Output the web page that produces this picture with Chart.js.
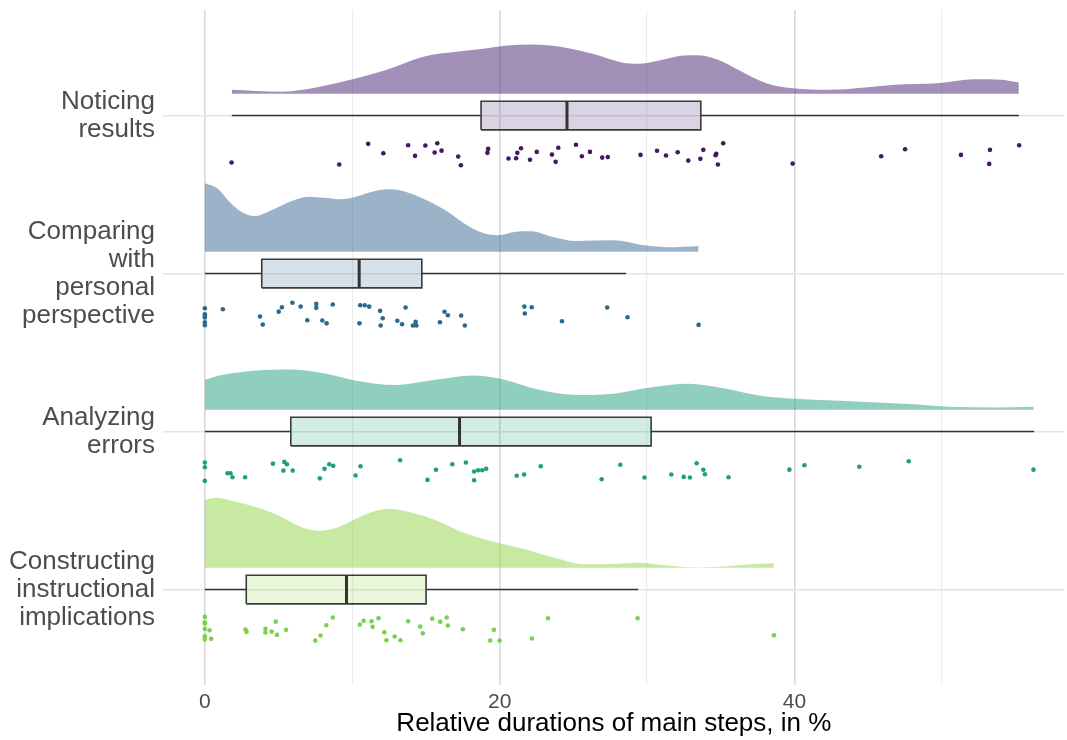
<!DOCTYPE html>
<html><head><meta charset="utf-8">
<script src="https://cdn.jsdelivr.net/npm/chart.js@4.4.1/dist/chart.umd.min.js"></script>
<style>html,body{margin:0;padding:0;background:#fff;overflow:hidden}#wrap{width:1067px;height:740px}</style>
</head><body><div id="wrap"><canvas id="c" width="1067" height="740"></canvas></div>
<script>
// ---------- data ----------
const categories = [
  ["Noticing", "results"],
  ["Comparing", "with", "personal", "perspective"],
  ["Analyzing", "errors"],
  ["Constructing", "instructional", "implications"]
];
const rowPositions = [4, 3, 2, 1];
const xTickValues = [0, 10, 20, 30, 40, 50];
const xAxisTitle = "Relative durations of main steps, in %";

const noticingValues = [1.81, 9.12, 11.08, 12.11, 13.79, 14.26, 14.96, 15.77, 15.59, 16.06, 17.19, 17.37, 19.22, 19.17, 20.6, 21.12, 21.2, 21.45, 22.06, 22.52, 23.55, 23.8, 23.98, 25.18, 25.58, 26.13, 26.96, 27.34, 29.56, 30.68, 31.29, 32.08, 32.8, 33.62, 33.82, 34.65, 34.7, 34.81, 35.17, 39.88, 45.89, 47.51, 51.3, 53.27, 53.22, 55.25];
const noticingJitter = [0.297, 0.310, 0.179, 0.239, 0.188, 0.255, 0.190, 0.175, 0.234, 0.222, 0.259, 0.315, 0.211, 0.236, 0.272, 0.270, 0.236, 0.207, 0.280, 0.230, 0.247, 0.293, 0.204, 0.185, 0.258, 0.230, 0.266, 0.263, 0.249, 0.223, 0.253, 0.232, 0.285, 0.274, 0.217, 0.251, 0.242, 0.310, 0.175, 0.304, 0.258, 0.213, 0.249, 0.217, 0.306, 0.188];

const comparingValues = [0, 0, 0, 0, 0, 0, 1.22, 3.74, 3.93, 5.01, 5.23, 5.94, 6.5, 6.95, 7.56, 7.56, 7.97, 8.26, 8.68, 10.49, 10.54, 10.85, 11.15, 11.89, 12.07, 11.93, 13.06, 13.38, 13.62, 14.12, 14.3, 14.35, 15.95, 16.26, 16.49, 17.39, 17.64, 21.68, 22.18, 21.71, 24.23, 27.3, 28.68, 33.5];
const comparingJitter = [0.220, 0.258, 0.268, 0.278, 0.308, 0.327, 0.226, 0.272, 0.323, 0.241, 0.213, 0.185, 0.209, 0.296, 0.192, 0.217, 0.297, 0.315, 0.196, 0.315, 0.201, 0.201, 0.209, 0.236, 0.283, 0.329, 0.299, 0.321, 0.215, 0.329, 0.306, 0.329, 0.308, 0.242, 0.264, 0.266, 0.329, 0.209, 0.213, 0.253, 0.302, 0.215, 0.277, 0.325];

const analyzingValues = [0, 0, 0, 1.54, 1.74, 1.87, 2.73, 4.62, 5.39, 5.57, 5.33, 5.96, 7.8, 8.12, 8.44, 8.71, 10.22, 10.56, 13.25, 15.11, 15.68, 16.79, 17.71, 18.27, 18.27, 18.54, 18.82, 19.09, 21.16, 21.66, 22.79, 26.92, 28.19, 29.83, 31.65, 32.49, 32.91, 33.37, 33.82, 33.93, 35.53, 39.66, 40.68, 44.4, 47.76, 56.22];
const analyzingJitter = [0.196, 0.226, 0.312, 0.264, 0.264, 0.289, 0.289, 0.203, 0.192, 0.207, 0.247, 0.247, 0.296, 0.236, 0.207, 0.217, 0.278, 0.220, 0.182, 0.306, 0.242, 0.207, 0.196, 0.253, 0.308, 0.245, 0.245, 0.236, 0.280, 0.272, 0.220, 0.302, 0.210, 0.291, 0.272, 0.287, 0.291, 0.201, 0.242, 0.270, 0.289, 0.241, 0.213, 0.223, 0.188, 0.241];

const constructingValues = [0, 0, 0, 0, 0, 0, 0.32, 0.43, 2.75, 2.83, 4.11, 4.11, 4.53, 4.81, 4.89, 5.51, 7.49, 7.85, 8.24, 8.68, 10.51, 10.77, 11.31, 11.38, 11.78, 12.18, 12.32, 12.88, 13.27, 13.79, 14.61, 14.79, 15.43, 15.97, 16.41, 16.49, 17.5, 19.36, 19.61, 20.0, 22.19, 23.28, 29.36, 38.61];
const constructingJitter = [0.173, 0.207, 0.215, 0.249, 0.296, 0.316, 0.258, 0.312, 0.253, 0.268, 0.249, 0.272, 0.266, 0.203, 0.287, 0.255, 0.323, 0.291, 0.226, 0.177, 0.222, 0.198, 0.201, 0.236, 0.182, 0.270, 0.321, 0.297, 0.321, 0.201, 0.234, 0.277, 0.184, 0.203, 0.177, 0.228, 0.251, 0.323, 0.255, 0.323, 0.310, 0.182, 0.182, 0.289];

// density curves (x value, relative height)
const noticingDensityX = [1.83, 5.1, 7.63, 10.17, 12.35, 14.89, 17.06, 18.88, 20.32, 22.13, 24.31, 26.49, 28.3, 29.39, 30.84, 32.28, 33.37, 34.82, 36.28, 38.09, 40.26, 42.44, 44.97, 46.79, 49.69, 52.22, 54.04, 55.23];
const noticingDensity = [4, 2, 6.6, 15, 24, 37.3, 42, 45, 48, 49.3, 46.6, 39.3, 31.3, 30, 33.3, 38, 38.6, 34, 23.3, 10.6, 5, 4, 6.6, 9, 10.6, 14.6, 14, 11.3];
const comparingDensityX = [0, 0.84, 1.77, 2.46, 3.39, 4.55, 5.94, 7.1, 8.26, 9.19, 10.12, 11.27, 12.43, 13.36, 14.75, 16.37, 17.53, 18.69, 19.85, 21.0, 22.17, 23.55, 25.18, 27.72, 29.81, 31.44, 33.5];
const comparingDensity = [68.4, 63.4, 48.4, 40, 35.7, 41.7, 51, 55, 53.7, 52.4, 54.4, 59.7, 62.4, 61, 53.4, 41, 29, 19.7, 16.4, 19.7, 20.4, 15, 10.7, 11.4, 6.4, 4.4, 5.7];
const analyzingDensityX = [0, 1.24, 3.5, 5.75, 8.0, 10.27, 12.9, 15.53, 18.16, 20.05, 22.68, 25.31, 27.56, 30.19, 32.83, 35.08, 37.71, 40.34, 44.11, 47.86, 50.88, 53.5, 56.24];
const analyzingDensity = [30, 35, 39.3, 40.3, 36.7, 29, 24.7, 29.7, 34.3, 31, 20, 14.7, 15.7, 22.3, 26, 21.7, 14, 10.7, 8.3, 5.7, 2.7, 2.3, 3];
const constructingDensityX = [0, 0.79, 2.08, 3.89, 5.17, 6.47, 7.76, 9.04, 10.33, 11.62, 12.65, 14.2, 15.74, 17.55, 19.62, 21.67, 23.74, 25.8, 27.61, 29.41, 31.47, 33.54, 35.6, 37.65, 38.61];
const constructingDensity = [67.7, 70, 66, 58.7, 51, 41, 37, 40.4, 49.4, 57, 58.7, 54.4, 47, 35, 26, 18.7, 10, 3.4, 3.7, 5, 2, 0.3, 1.7, 4, 4.4];

// box plot statistics (per category, same order)
const boxLower  = [1.83, 0, 0, 0];
const boxQ1     = [18.74, 3.86, 5.83, 2.81];
const boxMedian = [24.57, 10.47, 17.28, 9.61];
const boxQ3     = [33.65, 14.72, 30.28, 15.01];
const boxUpper  = [55.23, 28.58, 56.26, 29.4];

// ---------- styling ----------
const seriesColors = [[72, 33, 115], [53, 104, 145], [33, 160, 130], [143, 211, 69]];
const dotColors = [[70, 24, 100], [45, 104, 142], [31, 158, 130], [122, 209, 81]];
const rgba = (c, a) => `rgba(${c[0]},${c[1]},${c[2]},${a})`;
const FONT = '"Liberation Sans", Arial, Helvetica, sans-serif';
const DENS_OFFSET = 0.138, DENS_SCALE = 1 / 158, BOX_HALF = 0.0905;

const allValues = [noticingValues, comparingValues, analyzingValues, constructingValues];
const allJitter = [noticingJitter, comparingJitter, analyzingJitter, constructingJitter];
const allDensX = [noticingDensityX, comparingDensityX, analyzingDensityX, constructingDensityX];
const allDens = [noticingDensity, comparingDensity, analyzingDensity, constructingDensity];

const datasets = [];
categories.forEach((cat, i) => {
  const r = rowPositions[i];
  const base = r + DENS_OFFSET;
  const col = seriesColors[i];
  const line = { pointRadius: 0, pointHoverRadius: 0, fill: false, borderColor: '#333333' };
  datasets.push({ data: allDensX[i].map((x, j) => ({ x, y: base + allDens[i][j] * DENS_SCALE })),
    fill: { value: base }, backgroundColor: rgba(col, 0.5), borderWidth: 0, borderColor: 'rgba(0,0,0,0)',
    pointRadius: 0, cubicInterpolationMode: 'monotone', order: 20 });
  datasets.push({ data: [{ x: boxQ1[i], y: r + BOX_HALF }, { x: boxQ3[i], y: r + BOX_HALF }],
    fill: { value: r - BOX_HALF }, backgroundColor: rgba(col, 0.2), borderWidth: 0, borderColor: 'rgba(0,0,0,0)', pointRadius: 0, order: 19 });
  datasets.push(Object.assign({}, line, { data: [{ x: boxLower[i], y: r }, { x: boxQ1[i], y: r }], borderWidth: 1.5, order: 18 }));
  datasets.push(Object.assign({}, line, { data: [{ x: boxQ3[i], y: r }, { x: boxUpper[i], y: r }], borderWidth: 1.5, order: 18 }));
  datasets.push(Object.assign({}, line, { data: [
      { x: boxQ1[i], y: r - BOX_HALF }, { x: boxQ3[i], y: r - BOX_HALF }, { x: boxQ3[i], y: r + BOX_HALF },
      { x: boxQ1[i], y: r + BOX_HALF }, { x: boxQ1[i], y: r - BOX_HALF }],
    borderWidth: 1.6, borderColor: '#3a3a3a', borderJoinStyle: 'miter', order: 17 }));
  datasets.push(Object.assign({}, line, { data: [{ x: boxMedian[i], y: r - BOX_HALF }, { x: boxMedian[i], y: r + BOX_HALF }],
    borderWidth: 3, borderColor: '#333333', order: 16 }));
  datasets.push({ data: allValues[i].map((v, j) => ({ x: v, y: r - allJitter[i][j] })), showLine: false,
    pointRadius: 2.3, pointHoverRadius: 2.3, pointBackgroundColor: rgba(dotColors[i], 1), pointBorderWidth: 0, order: 1 });
});

new Chart(document.getElementById('c'), {
  type: 'line',
  data: { datasets },
  options: {
    responsive: false, animation: false, devicePixelRatio: 1,
    events: [],
    layout: { padding: { top: 10, right: 0, bottom: 0, left: 0 } },
    plugins: { legend: { display: false }, tooltip: { enabled: false } },
    scales: {
      x: {
        type: 'linear', min: -2.84, max: 58.34,
        afterBuildTicks: s => { s.ticks = xTickValues.map(v => ({ value: v })); },
        ticks: { autoSkip: false, maxRotation: 0, padding: 5, color: '#4d4d4d',
          font: { family: FONT, size: 21 }, callback: v => (v % 20 === 0 ? String(v) : '') },
        grid: { drawTicks: false,
          color: c => (c.tick && c.tick.value % 20 === 0 ? '#d8d8d8' : '#ececec'),
          lineWidth: c => (c.tick && c.tick.value % 20 === 0 ? 1.6 : 1.1) },
        border: { display: false },
        title: { display: true, text: xAxisTitle, color: '#000000', font: { family: FONT, size: 26, lineHeight: 1 }, padding: { top: 0, bottom: 3 } },
        afterFit: s => { s.height = 55; s.paddingLeft = 0; s.paddingRight = 0; }
      },
      y: {
        type: 'linear', min: 0.396, max: 4.668,
        afterBuildTicks: s => { s.ticks = [1, 2, 3, 4].map(v => ({ value: v })); },
        ticks: { autoSkip: false, padding: 8, color: '#4d4d4d', font: { family: FONT, size: 26, lineHeight: 1.08 },
          callback: v => categories[rowPositions.indexOf(v)] },
        grid: { drawTicks: false, color: '#e3e3e3', lineWidth: 1.6 },
        border: { display: false },
        afterFit: s => { s.width = 163; s.paddingTop = 0; s.paddingBottom = 0; }
      }
    }
  }
});
</script>
</body></html>
